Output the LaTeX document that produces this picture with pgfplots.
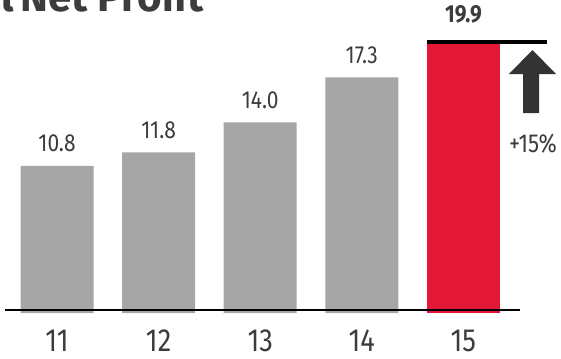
\documentclass[border=0pt]{standalone}
\usepackage{fontspec}
\setmainfont{Fira Sans}[FakeStretch=0.85]
\newfontfamily\titlefont{Fira Sans}
\usepackage{pgfplots}
\pgfplotsset{compat=1.18}
\definecolor{bargray}{HTML}{A6A6A6}
\definecolor{barred}{HTML}{E31837}
\definecolor{txt}{HTML}{3C3C3C}
\definecolor{arrowc}{HTML}{333333}
\begin{document}
\begin{tikzpicture}[x=0.75pt,y=0.75pt]
% picture frame in pixel units, axis box lower-left at pixel (5,313)
\useasboundingbox (-5,-45) rectangle (556,313);
\clip (-5,-45) rectangle (556,313);
\begin{axis}[
  at={(0,0)}, anchor=south west,
  scale only axis,
  width=386.25pt, height=204.3pt,
  xmin=-0.512, xmax=4.557,
  ymin=0, ymax=20,
  axis line style={draw=none},
  tick style={draw=none},
  ytick=\empty,
  xtick={0,1,2,3,4},
  xticklabels={11,12,13,14,15},
  xticklabel style={anchor=base, yshift=-24.5pt, text=txt, font=\fontsize{24pt}{24pt}\selectfont},
  ybar, bar width=54.75pt, bar shift=0pt,
  clip=false,
  nodes near coords,
  /pgf/number format/fixed,
  /pgf/number format/fixed zerofill,
  /pgf/number format/precision=1,
  /pgf/number format/assume math mode=true,
  every node near coord/.append style={anchor=base, yshift=10.5pt, inner sep=0pt, text=txt, font=\fontsize{18.5pt}{18.5pt}\selectfont},
]
\addplot[fill=bargray, draw=none] coordinates {(0,10.8) (1,11.8) (2,14.0) (3,17.3)};
\addplot[fill=barred, draw=none, every node near coord/.append style={yshift=3.75pt, font=\fontsize{18.5pt}{18.5pt}\selectfont\bfseries}] coordinates {(4,19.9)};
\end{axis}
\begin{scope}[shift={(-5,-45)}]
% title (cut at the top)
\node[anchor=base east,inner sep=0pt,text=txt,font=\titlefont\fontsize{31.5pt}{31.5pt}\selectfont\bfseries] at (14,346) {Total};
\node[anchor=base west,inner sep=0pt,text=txt,font=\titlefont\fontsize{31.5pt}{31.5pt}\selectfont\bfseries] at (20,346) {Net Profit\textsuperscript{*1}};
% baseline
\draw[black, line width=1.6pt] (5,48) -- (520,48);
% top line of last bar
\draw[black, line width=2.4pt] (427,316) -- (547,316);
% arrow
\fill[arrowc] (532.5,308) -- (556,284) -- (539,284) -- (539,245) -- (523,245) -- (523,284) -- (509,284) -- cycle;
\node[text=txt, font=\fontsize{19.5pt}{19.5pt}\selectfont, inner sep=0pt] at (533,214) {+15\%};
\end{scope}
\end{tikzpicture}
\end{document}
